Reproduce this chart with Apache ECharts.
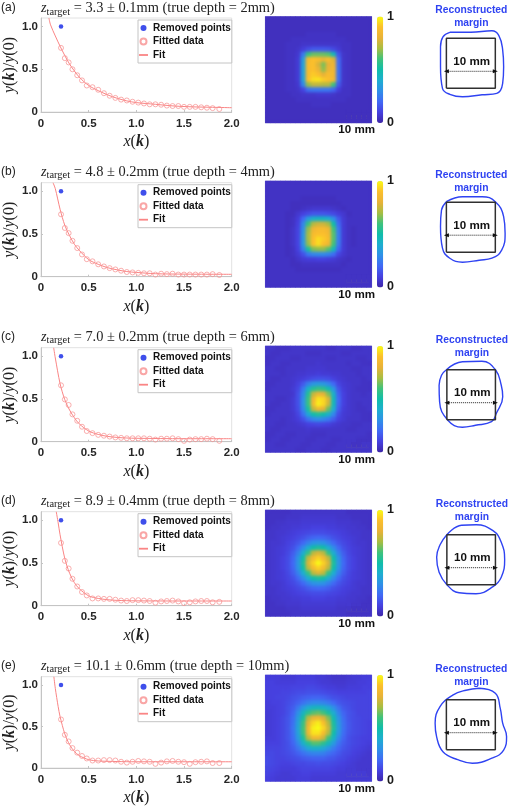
<!DOCTYPE html>
<html><head><meta charset="utf-8">
<style>html,body{margin:0;padding:0;background:#fff}#wrap{position:relative;width:510px;height:807px}#c{width:510px;height:807px}
.soft{position:absolute;-webkit-backdrop-filter:blur(1.8px);backdrop-filter:blur(1.8px);clip-path:polygon(0 0,100% 0,100% 100%,0 100%,0 0,76% 88%,76% 98%,99% 98%,99% 88%,76% 88%,0 0);pointer-events:none}</style>
<script src="https://cdn.jsdelivr.net/npm/echarts@6/dist/echarts.min.js"></script>
</head><body><div id="wrap"><div id="c"></div></div>
<script>
const panelTags = ['(a)','(b)','(c)','(d)','(e)'];
const estimates = ['3.3 ± 0.1','4.8 ± 0.2','7.0 ± 0.2','8.9 ± 0.4','10.1 ± 0.6'];
const trueDepths = ['2','4','6','8','10'];
const removedX = [0.21];
const removedY = [1.0];
const fittedX = [0.21,0.25,0.29,0.33,0.38,0.43,0.48,0.54,0.60,0.66,0.72,0.78,0.84,0.90,0.96,1.02,1.08,1.14,1.20,1.26,1.32,1.38,1.44,1.50,1.56,1.62,1.68,1.74,1.80,1.87];
const fittedA = [.75,.63,.58,.50,.43,.37,.31,.29,.26,.22,.19,.165,.145,.135,.12,.11,.10,.09,.09,.085,.075,.07,.07,.06,.06,.06,.055,.05,.045,.035];
const fittedB = [.73,.57,.51,.42,.335,.26,.205,.18,.145,.12,.10,.085,.07,.055,.05,.045,.04,.04,.025,.035,.03,.035,.025,.025,.025,.025,.025,.025,.03,.02];
const fittedC = [.66,.495,.43,.32,.245,.175,.125,.10,.08,.07,.06,.05,.045,.04,.04,.04,.04,.035,.025,.035,.035,.04,.03,.01,.025,.03,.03,.035,.03,.01];
const fittedD = [.735,.525,.435,.315,.225,.16,.12,.085,.085,.08,.08,.07,.06,.055,.065,.065,.06,.055,.035,.05,.055,.06,.05,.03,.04,.05,.055,.055,.04,.045];
const fittedE = [.585,.40,.32,.24,.185,.145,.115,.09,.09,.095,.095,.09,.075,.065,.075,.085,.08,.075,.05,.065,.08,.085,.075,.07,.05,.07,.075,.08,.06,.06];
const fitA = [[.083,1.1],[.1,1.02],[.15,.89],[.2,.77],[.25,.66],[.3,.56],[.4,.41],[.5,.31],[.6,.25],[.7,.2],[.8,.16],[.9,.13],[1,.11],[1.2,.09],[1.4,.07],[1.6,.06],[1.8,.055],[2,.05]];
const fitB = [[.126,1.1],[.15,1.03],[.2,.79],[.25,.6],[.3,.48],[.35,.38],[.4,.31],[.5,.2],[.6,.145],[.7,.105],[.8,.08],[.9,.06],[1,.05],[1.2,.035],[1.5,.03],[2,.028]];
const fitC = [[.133,1.1],[.15,.98],[.2,.68],[.25,.49],[.3,.37],[.35,.28],[.4,.21],[.5,.125],[.6,.085],[.7,.062],[.8,.05],[.9,.043],[1,.04],[1.5,.035],[2,.035]];
const fitD = [[.16,1.1],[.18,.97],[.2,.83],[.25,.55],[.3,.38],[.35,.27],[.4,.2],[.5,.115],[.6,.085],[.7,.07],[.8,.062],[1,.057],[1.5,.055],[2,.055]];
const fitE = [[.135,1.1],[.15,.96],[.18,.74],[.2,.62],[.25,.41],[.3,.28],[.35,.2],[.4,.15],[.5,.1],[.6,.085],[.8,.078],[1,.075],[2,.075]];
const squareMM = [[-5,-5],[5,-5],[5,5],[-5,5],[-5,-5]];
const spanMM = [[-5,-1.6],[5,-1.6]];
const contourA = [[-4.3,6.2],[0,6.2],[4.3,6.5],[5.7,5.6],[6.5,2.7],[6.7,-.7],[6.5,-4],[5.3,-6],[2.3,-6.3],[-1.7,-6.7],[-4.3,-6.2],[-5.8,-5],[-6.2,-.7],[-6.2,3.3],[-5.7,5.3],[-4.3,6.2]];
const contourB = [[-5,5.1],[-1.7,6.1],[2.3,6.1],[5,5.1],[6.7,2.1],[7,-1.2],[6.3,-4.6],[4.3,-6.2],[1.7,-6.6],[-1.7,-7],[-4.3,-6.2],[-5.8,-4.2],[-6.2,.1],[-6,3.4],[-5,5.1]];
const contourC = [[-5.1,5],[-1.8,6.6],[2.2,6.7],[5,5],[6.2,1.9],[6.5,-.4],[5.2,-3.7],[4.2,-5.4],[.9,-6.1],[-1.8,-6.5],[-4.8,-5.1],[-6.5,-1.4],[-6.6,1.9],[-6.1,3.9],[-5.1,5]];
const contourD = [[-5,5],[-2,6.9],[1,7],[4.5,5.8],[6.2,3.5],[6.9,0],[6.2,-3.5],[4.5,-5.4],[1,-6.8],[-2.5,-6.6],[-5,-5],[-6.6,-2.5],[-7.1,.5],[-6.4,3],[-5,5]];
const contourE = [[1.7,7.3],[5,6.3],[6,3.3],[6.5,.3],[7.3,-2.4],[6.7,-5.1],[4.3,-6.7],[.3,-7.7],[-2.7,-7],[-5.7,-5.4],[-7,-2.4],[-7.3,.3],[-6.3,3.6],[-3.7,5.9],[-1,6.9],[1.7,7.3]];
const imageA = [
[4,4,4,4,4,4,4,4,4,4,4,4,4,4,4,4,4,4,4,4,4],
[4,4,4,4,4,4,4,4,4,4,4,4,4,4,4,4,4,4,4,4,4],
[4,4,4,4,4,4,4,4,4,4,4,4,4,4,4,4,4,4,4,4,4],
[4,4,4,4,4,4,4,4,5,5,5,5,5,5,4,4,4,4,4,4,4],
[4,4,4,4,4,5,5,5,5,5,5,5,5,5,5,5,4,4,4,4,4],
[4,4,4,4,5,5,5,6,6,6,6,6,6,6,6,5,5,4,4,4,4],
[4,4,4,4,5,5,6,9,13,16,16,16,15,12,8,5,5,4,4,4,4],
[4,4,4,4,5,5,7,24,58,64,64,64,62,46,15,6,5,4,4,4,4],
[4,4,4,4,5,5,8,34,86,90,88,82,88,78,20,6,5,4,4,4,4],
[4,4,4,4,5,5,8,36,88,90,78,66,80,82,21,6,5,4,4,4,4],
[4,4,4,4,5,5,8,36,88,90,82,68,82,84,22,6,5,4,4,4,4],
[4,4,4,4,5,5,8,36,88,92,90,80,88,84,22,6,5,4,4,4,4],
[4,4,4,4,5,5,8,36,90,95,96,92,90,86,22,6,5,4,4,4,4],
[4,4,4,4,5,5,7,28,68,74,74,72,72,60,16,6,5,4,4,4,4],
[4,4,4,4,5,5,6,11,22,24,24,24,24,19,9,5,5,4,4,4,4],
[4,4,4,4,4,5,5,6,6,6,7,7,7,6,5,5,5,4,4,4,4],
[4,4,4,4,4,4,5,5,5,5,5,5,5,5,5,5,4,4,4,4,4],
[4,4,4,4,4,4,4,4,4,5,5,5,5,4,4,4,4,4,4,4,4],
[4,4,4,4,4,4,4,4,4,4,4,4,4,4,4,4,4,4,4,4,4],
[4,4,4,4,4,4,4,4,4,4,4,4,4,4,4,4,4,4,4,4,4],
[4,4,4,4,4,4,4,4,4,4,4,4,4,4,4,4,4,4,4,4,4]];
const imageB = [
[5,5,5,5,5,5,5,5,5,5,5,5,5,5,5,5,5,5,5,5,5],
[5,5,5,5,5,5,5,5,5,5,5,5,5,5,5,5,5,5,5,5,5],
[5,5,5,5,5,5,5,5,5,5,5,5,5,5,5,5,5,5,5,5,5],
[5,5,5,5,5,5,5,4,4,4,4,4,4,4,5,5,5,5,5,5,5],
[5,5,5,5,5,4,4,4,4,4,4,4,4,4,4,5,5,5,5,5,5],
[5,5,5,5,5,4,4,5,6,7,7,7,7,6,5,4,5,5,5,5,5],
[5,5,5,5,4,4,7,10,13,15,15,15,14,12,9,7,4,5,5,5,5],
[5,5,5,5,4,5,9,20,34,42,44,44,40,30,16,8,5,5,5,5,5],
[5,5,5,5,4,5,10,28,58,72,76,76,70,50,20,8,5,5,5,5,5],
[5,5,5,5,4,6,11,30,68,84,88,88,84,60,24,8,5,4,5,5,5],
[5,5,5,5,4,6,11,32,70,88,90,90,86,62,25,8,5,4,5,5,5],
[5,5,5,5,4,6,11,32,70,90,95,92,88,62,25,8,5,4,5,5,5],
[5,5,5,5,4,6,11,32,68,90,95,90,84,60,24,8,5,4,5,5,5],
[5,5,5,5,4,5,10,26,52,66,68,68,62,46,19,8,5,5,5,5,5],
[5,5,5,5,4,5,8,14,24,28,29,29,27,21,11,7,5,5,5,5,5],
[5,5,5,5,5,4,6,8,9,9,10,10,9,8,6,5,4,5,5,5,5],
[5,5,5,5,5,4,4,5,5,5,5,5,5,5,5,4,5,5,5,5,5],
[5,5,5,5,5,5,4,4,4,4,4,4,4,4,4,5,5,5,5,5,5],
[5,5,5,5,5,5,5,5,5,5,5,5,5,5,5,5,5,5,5,5,5],
[5,5,5,5,5,5,5,5,5,5,5,5,5,5,5,5,5,5,5,5,5],
[5,5,5,5,5,5,5,5,5,5,5,5,5,5,5,5,5,5,5,5,5]];
const imageC = [
[6,6,5,5,5,6,6,6,6,6,6,6,5,5,6,6,6,5,5,6,6],
[6,5,5,6,6,6,6,6,5,5,5,6,6,6,6,5,5,6,6,6,6],
[5,5,6,6,6,5,5,6,6,6,6,6,5,5,6,6,6,6,5,5,6],
[5,6,6,5,5,6,6,6,6,6,7,6,6,6,6,6,5,6,6,5,5],
[6,6,5,5,6,6,6,6,7,7,7,7,6,6,6,6,6,5,5,6,6],
[6,6,6,5,6,6,7,7,8,8,9,8,8,7,7,6,6,6,5,6,6],
[6,5,5,6,6,7,8,9,11,13,14,14,13,10,8,7,6,6,6,5,6],
[5,5,6,6,6,7,10,16,26,32,34,33,28,20,11,8,7,6,6,5,5],
[5,6,6,6,6,8,12,24,42,54,58,56,48,32,15,9,7,6,5,5,5],
[6,6,6,6,6,7,14,28,54,74,82,80,66,42,18,10,7,6,6,5,6],
[6,6,5,5,6,8,14,30,58,84,96,94,78,46,20,10,7,6,6,6,6],
[6,5,5,6,6,8,14,30,58,86,98,94,76,46,19,10,7,6,5,6,6],
[5,5,6,6,6,8,13,28,52,74,84,80,64,40,17,9,7,6,5,5,6],
[5,6,6,6,6,7,11,22,38,50,54,50,42,28,13,8,7,6,6,5,5],
[6,6,6,5,6,7,9,14,22,28,30,28,24,17,10,8,6,6,6,5,5],
[6,6,5,5,6,6,7,8,10,11,12,11,10,8,7,6,6,5,5,6,6],
[6,5,5,6,6,6,6,6,7,6,6,6,6,6,6,6,5,5,6,6,6],
[5,5,6,6,5,5,6,6,6,5,5,5,6,6,6,6,6,6,6,6,5],
[5,6,6,5,5,6,6,6,5,5,6,6,6,5,5,6,6,6,5,5,5],
[6,6,5,5,6,6,6,5,5,6,6,6,5,5,6,6,6,5,5,6,6],
[6,6,6,6,6,6,5,5,6,6,6,5,5,6,6,6,6,6,6,6,6]];
const imageD = [
[5,5,5,5,5,6,6,6,6,6,6,6,6,6,6,6,5,5,5,5,5],
[5,5,5,5,6,6,6,7,7,7,7,7,7,7,6,6,6,5,5,5,5],
[5,5,6,6,7,7,7,8,8,8,8,8,8,8,7,7,7,6,6,5,5],
[5,6,6,7,7,8,8,9,9,10,10,10,9,9,8,8,7,7,6,6,5],
[6,6,7,7,8,9,10,11,12,13,13,13,12,11,10,9,8,7,7,6,6],
[6,6,7,8,9,10,12,14,17,19,20,19,17,14,12,10,9,8,7,6,6],
[6,7,7,8,10,12,15,20,26,31,32,31,26,20,15,12,10,8,7,7,6],
[6,7,8,9,11,14,20,29,40,50,53,50,40,29,20,14,11,9,8,7,6],
[6,7,8,9,12,17,26,40,57,73,78,73,57,40,26,17,12,9,8,7,6],
[6,7,8,10,13,19,31,50,73,87,93,87,73,50,31,19,13,10,8,7,6],
[6,7,8,10,13,20,32,53,78,93,100,93,78,53,32,20,13,10,8,7,6],
[6,7,8,10,13,19,31,50,73,87,93,87,73,50,31,19,13,10,8,7,6],
[6,7,8,9,12,17,26,40,57,73,78,73,57,40,26,17,12,9,8,7,6],
[6,7,8,9,11,14,20,29,40,50,53,50,40,29,20,14,11,9,8,7,6],
[6,7,7,8,10,12,15,20,26,31,32,31,26,20,15,12,10,8,7,7,6],
[6,6,7,8,9,10,12,14,17,19,20,19,17,14,12,10,9,8,7,6,6],
[6,6,7,7,8,9,10,11,12,13,13,13,12,11,10,9,8,7,7,6,6],
[5,6,6,7,7,8,8,9,9,10,10,10,9,9,8,8,7,7,6,6,5],
[5,5,6,6,7,7,7,8,8,8,8,8,8,8,7,7,7,6,6,5,5],
[5,5,5,5,6,6,6,7,7,7,7,7,7,7,6,6,6,5,5,5,5],
[5,5,5,5,5,6,6,6,6,6,6,6,6,6,6,6,5,5,5,5,5]];
const imageE = [
[9,9,9,8,8,8,9,9,9,9,8,8,7,6,6,6,7,8,8,9,9],
[10,10,9,9,9,9,10,10,10,10,9,8,8,7,7,7,8,8,9,9,10],
[10,10,10,10,10,11,11,11,12,12,11,10,9,9,8,8,9,9,9,10,10],
[10,10,10,11,11,12,13,13,14,14,14,13,12,11,10,10,10,10,10,10,11],
[10,10,11,11,12,14,15,17,18,19,19,18,16,14,13,12,11,11,11,11,11],
[9,10,10,11,13,15,18,22,26,28,28,27,24,20,16,14,13,12,11,11,11],
[9,9,10,11,14,17,24,33,40,44,45,43,38,30,22,16,14,12,11,11,11],
[8,9,10,11,14,19,30,44,56,62,64,60,52,40,27,19,15,13,11,11,11],
[8,9,10,12,15,21,34,52,72,82,84,78,66,48,31,21,15,13,12,11,11],
[8,9,10,12,15,22,36,58,80,94,98,90,72,52,33,22,16,13,12,11,10],
[8,9,10,12,15,23,37,60,84,98,100,94,76,54,34,22,16,13,12,11,10],
[8,9,10,12,15,22,36,58,82,96,96,88,72,50,32,21,15,13,12,11,10],
[9,9,10,12,15,21,33,52,72,84,84,76,60,44,28,19,14,12,11,10,10],
[10,10,10,12,14,19,28,42,54,62,62,56,46,34,23,17,14,12,11,10,9],
[11,11,11,12,14,17,23,30,38,42,42,38,32,25,19,15,13,11,10,9,8],
[12,12,11,12,13,15,18,22,25,27,27,26,22,19,16,13,12,10,9,8,7],
[13,12,11,11,12,13,14,16,17,18,18,18,16,15,13,12,10,9,8,7,7],
[13,12,11,10,10,11,12,12,13,13,14,13,13,12,11,10,9,8,7,7,7],
[12,11,10,9,9,9,10,11,11,11,11,11,11,10,9,9,8,8,7,7,7],
[11,10,9,8,8,9,9,10,10,9,9,9,9,9,8,8,8,8,8,8,7],
[10,9,8,8,8,8,9,9,9,8,8,8,8,8,8,8,8,8,8,8,8]];
const cbStops = ['#3e26a8','#4640df','#4169f5','#2f90e8','#1eaed0','#10bdaa','#3fc27c','#a8bd42','#e8b238','#fbbf2c','#f9fb15'];

const fitteds=[fittedA,fittedB,fittedC,fittedD,fittedE];
const fits=[fitA,fitB,fitC,fitD,fitE];
const contours=[contourA,contourB,contourC,contourD,contourE];
const images=[imageA,imageB,imageC,imageD,imageE];

const plotTop=[18,182.7,347.7,511.7,676.7];
const imgTop=[16.5,181,346,510,675];
const titleY=[8,171.7,336.7,500.7,665.7];
const sketchC=[[471.7,63.3],[471.7,227.2],[472.3,394.7],[472.3,559.7],[471.7,724.7]];
const headY=[10.3,175.3,340.3,504.3,669.3];
const PH=94, IS=106.4, IL=265.3;
const SANS='"Liberation Sans",Arial,sans-serif', SERIF='"Liberation Serif",serif';
const axisRich={i:{fontFamily:SERIF,fontStyle:'italic',fontSize:16,color:'#222'},r:{fontFamily:SERIF,fontSize:16,color:'#222'},b:{fontFamily:SERIF,fontStyle:'italic',fontWeight:'bold',fontSize:16,color:'#222'}};
const grid=[],xAxis=[],yAxis=[],series=[],visualMap=[],legend=[],title=[],graphic=[];
const idx=[...Array(21).keys()];
const tickFmt=v=>v===0?'0':v.toFixed(1);

panelTags.forEach((tag,p)=>{
  const g0=grid.length;
  grid.push({left:41,top:plotTop[p],width:190.7,height:PH,show:true,borderColor:'#e2e2e2',borderWidth:1});
  const lab={fontFamily:SANS,fontWeight:'bold',fontSize:11.5,color:'#262626'};
  const line={show:true,lineStyle:{color:'#c4c4c4',width:1}};
  const tick={show:true,inside:true,length:2,lineStyle:{color:'#c4c4c4'}};
  xAxis.push({gridIndex:g0,type:'value',min:0,max:2,interval:.5,splitLine:{show:false},axisLine:line,axisTick:tick,
    axisLabel:{...lab,margin:5.5,formatter:tickFmt,hideOverlap:false},
    name:'{i|x}{r|(}{b|k}{r|)}',nameLocation:'middle',nameGap:22,nameTextStyle:{rich:axisRich}});
  yAxis.push({gridIndex:g0,type:'value',min:0,max:1.1,interval:.5,splitLine:{show:false},axisLine:line,axisTick:tick,
    axisLabel:{...lab,margin:3,formatter:tickFmt,showMaxLabel:false},
    name:'{i|y}{r|(}{b|k}{r|)/}{i|y}{r|(0)}',nameLocation:'middle',nameRotate:90,nameGap:23,nameTextStyle:{rich:axisRich}});
  series.push({name:'Removed points',type:'scatter',xAxisIndex:g0,yAxisIndex:g0,symbolSize:4.5,itemStyle:{color:'#0f23e6'},data:removedX.map((x,i)=>[x,removedY[i]]),silent:true});
  series.push({name:'Fitted data',type:'scatter',xAxisIndex:g0,yAxisIndex:g0,symbolSize:5,itemStyle:{color:'rgba(255,255,255,0)',borderColor:'#f79090',borderWidth:.9},data:fittedX.map((x,i)=>[x,fitteds[p][i]]),silent:true});
  series.push({name:'Fit',type:'line',xAxisIndex:g0,yAxisIndex:g0,showSymbol:false,symbol:'none',smooth:.3,itemStyle:{color:'#fa8585'},lineStyle:{color:'#fa8585',width:1},data:fits[p],silent:true,z:1});
  legend.push({show:true,left:138,top:plotTop[p]+2,orient:'vertical',padding:[3,1,3,1],itemGap:3.5,itemWidth:9,itemHeight:6,selectedMode:false,
    backgroundColor:'#fff',borderColor:'#c4c4c4',borderWidth:1,
    textStyle:{fontFamily:SANS,fontWeight:'bold',fontSize:10,color:'#111'},
    data:[{name:'Removed points'},{name:'Fitted data'},{name:'Fit',icon:'path://M0,4H10V6H0Z'}]});
  title.push({left:41,top:titleY[p]-8,padding:0,text:`{z|z}{s|target}{t| = ${estimates[p]}mm (true depth = ${trueDepths[p]}mm)}`,
    textStyle:{fontWeight:'normal',rich:{z:{fontFamily:SERIF,fontWeight:'normal',fontStyle:'italic',fontSize:14.4,color:'#222',lineHeight:17},s:{fontFamily:SERIF,fontWeight:'normal',fontSize:10.4,color:'#222',verticalAlign:'bottom',lineHeight:17},t:{fontFamily:SERIF,fontWeight:'normal',fontSize:14.4,color:'#222',lineHeight:17}}}});
  const g1=grid.length;
  grid.push({left:IL,top:imgTop[p],width:IS,height:IS,show:true,backgroundColor:'#4030b0',borderColor:'#c9c6e6',borderWidth:1});
  xAxis.push({gridIndex:g1,type:'category',data:idx,show:false});
  yAxis.push({gridIndex:g1,type:'category',data:idx,show:false,inverse:true});
  const data=[]; images[p].forEach((row,r)=>row.forEach((v,c)=>data.push([c,r,v])));
  const si=series.length;
  series.push({type:'heatmap',xAxisIndex:g1,yAxisIndex:g1,data,silent:true,progressive:0,z:2});
  visualMap.push({type:'continuous',seriesIndex:si,min:0,max:100,dimension:2,left:377,top:imgTop[p],itemWidth:6.2,itemHeight:IS,padding:0,calculable:false,hoverLink:false,showLabel:false,text:null,inRange:{color:cbStops},realtime:false});
  const g2=grid.length;
  const [cx,cy]=sketchC[p];
  grid.push({left:cx-40,top:cy-40,width:80,height:80,show:false});
  xAxis.push({gridIndex:g2,type:'value',min:-8,max:8,show:false});
  yAxis.push({gridIndex:g2,type:'value',min:-8,max:8,show:false});
  series.push({type:'line',xAxisIndex:g2,yAxisIndex:g2,data:contours[p],smooth:.45,showSymbol:false,symbol:'none',clip:false,lineStyle:{color:'#2f43f2',width:1.4},silent:true});
  series.push({type:'line',xAxisIndex:g2,yAxisIndex:g2,data:squareMM,showSymbol:false,symbol:'none',clip:false,lineStyle:{color:'#303030',width:1.5},silent:true});
  series.push({type:'line',xAxisIndex:g2,yAxisIndex:g2,clip:false,silent:true,showSymbol:true,showAllSymbol:true,lineStyle:{color:'#222',width:1,type:'dotted'},
    data:[{value:spanMM[0],symbol:'triangle',symbolSize:[4,5],symbolRotate:90,itemStyle:{color:'#111'}},{value:spanMM[1],symbol:'triangle',symbolSize:[4,5],symbolRotate:-90,itemStyle:{color:'#111'}}]});
  const T=(x,y,text,style)=>graphic.push({type:'text',x,y,silent:true,style:{text,verticalAlign:'middle',fontFamily:SANS,...style}});
  T(1,titleY[p],tag,{fontSize:12,fill:'#222',align:'left'});
  T(387,imgTop[p],'1',{fontSize:12.5,fontWeight:'bold',fill:'#1a1a1a'});
  T(387,imgTop[p]+106,'0',{fontSize:12.5,fontWeight:'bold',fill:'#1a1a1a'});
  T(375,imgTop[p]+113.5,'10 mm',{fontSize:11.6,fontWeight:'bold',fill:'#111',align:'right'});
  graphic.push({type:'rect',silent:true,shape:{x:346.3,y:imgTop[p]+98.5,width:22.4,height:4},style:{fill:'#f6ee00'}});
  T(cx-.4,headY[p],'Reconstructed',{fontSize:10.3,fontWeight:'bold',fill:'#2f43f2',align:'center'});
  T(cx-.4,headY[p]+12.7,'margin',{fontSize:10.3,fontWeight:'bold',fill:'#2f43f2',align:'center'});
  T(cx,cy-1.7,'10 mm',{fontSize:11.6,fontWeight:'bold',fill:'#111',align:'center'});
});
const chart=echarts.init(document.getElementById('c'),null,{renderer:'canvas'});
chart.setOption({animation:false,backgroundColor:'#fff',tooltip:{show:false},grid,xAxis,yAxis,series,visualMap,legend,title,graphic:{elements:graphic}});
imgTop.forEach(t=>{const d=document.createElement('div');d.className='soft';d.style.cssText=`left:${IL+.5}px;top:${t+.5}px;width:${IS-1}px;height:${IS-1}px`;document.getElementById('wrap').appendChild(d);});
</script></body></html>
